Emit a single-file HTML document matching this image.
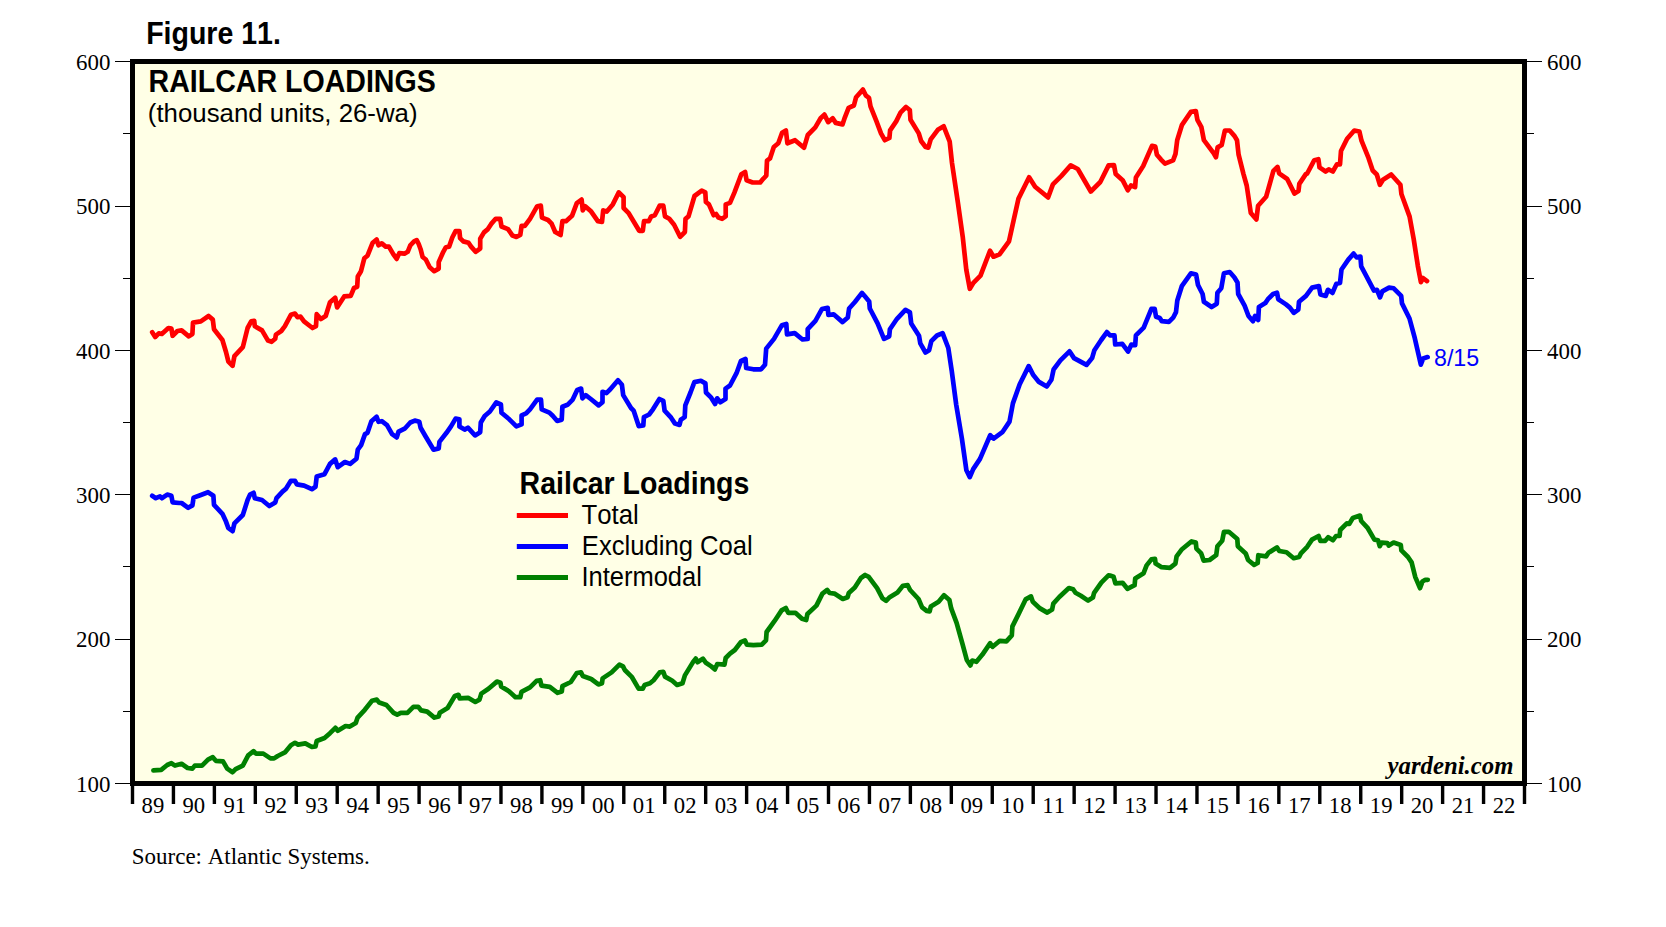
<!DOCTYPE html><html><head><meta charset="utf-8"><style>html,body{margin:0;padding:0;background:#fff;}body{width:1666px;height:927px;overflow:hidden;}svg{display:block;}text{font-kerning:none;}</style></head><body>
<svg width="1666" height="927" viewBox="0 0 1666 927">
<rect x="132.5" y="61.5" width="1392.0" height="722.0" fill="#FFFFE6"/>
<g fill="none" stroke-width="4.7" stroke-linejoin="round" stroke-linecap="round">
<path stroke="#FF0000" d="M152.2,332.2 L155.2,337.0 L158.8,333.4 L161.8,334.0 L168.4,328.0 L171.4,328.6 L172.6,335.8 L177.4,331.0 L181.6,330.4 L188.8,336.4 L192.4,334.0 L193.0,322.6 L200.8,321.4 L208.6,316.0 L212.8,319.6 L214.0,329.2 L222.4,340.0 L226.0,352.0 L228.4,361.6 L232.6,365.8 L234.4,356.2 L242.8,347.2 L247.6,328.0 L251.2,321.4 L254.2,320.8 L254.8,326.2 L262.0,330.4 L268.0,340.6 L271.6,341.8 L275.2,338.8 L275.9,334.6 L281.3,331.0 L284.9,326.2 L290.9,314.8 L295.0,313.6 L297.5,317.2 L300.5,316.6 L304.0,321.4 L312.5,328.0 L316.0,326.2 L316.7,314.2 L320.9,319.0 L325.7,316.0 L330.0,302.3 L335.2,297.7 L337.1,307.4 L344.2,296.4 L350.7,295.8 L354.0,288.0 L357.2,286.7 L357.8,276.4 L361.0,271.2 L364.3,258.3 L367.5,255.7 L372.7,242.7 L376.6,239.5 L378.5,245.3 L381.8,243.4 L385.7,246.6 L388.9,246.6 L393.4,254.4 L396.7,258.9 L399.3,253.1 L404.4,253.7 L407.7,251.8 L410.3,245.3 L414.1,241.4 L416.7,240.1 L418.7,244.0 L420.6,249.2 L422.6,257.0 L425.8,259.5 L429.7,267.3 L434.2,271.2 L438.7,268.6 L438.7,262.1 L443.3,251.8 L445.9,247.2 L449.1,246.6 L452.3,237.5 L455.6,231.1 L459.4,231.1 L460.1,238.2 L463.3,241.4 L468.5,242.7 L471.1,246.6 L475.6,251.8 L480.2,248.5 L480.2,238.8 L484.0,232.4 L487.9,229.1 L491.2,223.9 L495.7,218.8 L500.2,218.8 L501.5,226.5 L508.0,229.1 L512.5,235.6 L516.4,236.9 L520.3,235.0 L521.6,225.9 L524.8,225.9 L530.0,218.8 L537.2,206.2 L540.8,205.6 L542.0,217.6 L548.0,220.0 L551.6,223.6 L555.2,232.0 L560.6,235.0 L562.4,221.2 L566.0,221.2 L572.0,215.8 L576.8,203.2 L581.6,199.6 L582.8,210.4 L585.2,206.2 L591.2,211.6 L597.8,221.2 L602.0,221.8 L603.2,210.4 L606.8,211.6 L612.8,204.4 L618.8,192.4 L623.6,197.2 L623.6,208.0 L628.4,212.8 L632.0,218.8 L639.2,230.8 L642.8,230.8 L644.0,221.2 L648.8,221.2 L651.2,216.4 L654.8,215.2 L659.7,205.6 L663.3,205.6 L665.0,216.4 L669.3,218.8 L674.1,224.8 L680.1,236.8 L684.9,232.0 L685.5,218.8 L688.5,216.4 L694.5,196.0 L701.7,190.6 L705.3,192.4 L705.9,202.0 L708.9,204.4 L713.7,215.2 L716.1,214.0 L718.5,217.6 L722.1,218.8 L725.7,216.4 L725.7,204.4 L730.0,202.9 L734.5,192.4 L741.3,174.2 L745.1,172.0 L746.6,180.3 L752.7,182.5 L760.2,182.5 L763.2,178.8 L766.3,175.7 L767.0,160.6 L770.0,158.4 L773.8,147.0 L778.3,143.3 L782.1,132.7 L785.9,130.4 L787.4,143.3 L795.0,140.2 L804.0,147.8 L807.8,135.0 L815.3,127.4 L820.6,118.3 L824.4,114.6 L828.2,122.1 L832.7,118.3 L835.7,122.9 L842.5,124.4 L844.8,117.6 L848.6,107.8 L853.9,105.5 L856.1,97.2 L862.9,89.6 L866.0,95.7 L869.0,97.9 L870.5,106.3 L876.5,121.4 L881.0,133.4 L884.8,140.2 L889.4,138.0 L890.1,130.4 L896.2,121.4 L900.7,112.3 L906.0,107.0 L909.8,110.0 L910.5,119.8 L918.8,133.4 L921.1,141.0 L925.6,147.0 L928.3,147.6 L930.7,139.3 L937.8,129.8 L943.7,126.3 L949.7,141.7 L952.0,163.0 L958.0,203.4 L962.7,236.6 L966.3,269.8 L969.8,288.8 L973.4,282.8 L980.5,275.7 L990.0,250.8 L993.5,256.7 L999.5,254.4 L1009.0,241.3 L1013.7,220.0 L1018.5,198.6 L1029.1,177.3 L1035.1,186.8 L1048.1,197.4 L1052.9,184.4 L1061.2,176.1 L1070.7,165.4 L1077.8,169.0 L1090.8,191.5 L1100.3,182.0 L1108.6,165.4 L1114.0,165.2 L1115.7,174.1 L1122.9,180.6 L1127.8,190.3 L1131.0,185.5 L1135.1,187.1 L1135.9,177.4 L1143.2,166.0 L1152.1,145.8 L1155.3,146.6 L1156.9,154.7 L1161.0,159.6 L1165.0,163.6 L1173.1,160.4 L1175.5,153.9 L1177.2,140.2 L1182.0,124.8 L1190.9,111.8 L1195.8,111.0 L1197.4,119.9 L1201.4,127.2 L1203.9,140.2 L1213.6,153.1 L1216.0,157.2 L1217.6,147.4 L1221.7,145.0 L1224.9,130.5 L1229.7,130.5 L1234.6,136.1 L1237.0,140.2 L1238.6,154.7 L1243.5,174.1 L1246.7,185.5 L1250.8,213.0 L1256.4,219.4 L1258.1,205.7 L1266.1,196.8 L1273.4,170.9 L1277.5,166.9 L1279.1,173.3 L1287.2,179.0 L1294.5,193.6 L1298.5,191.1 L1299.3,183.9 L1305.8,174.1 L1307.2,173.5 L1314.3,160.2 L1318.4,159.2 L1319.5,167.4 L1325.6,171.5 L1328.7,169.4 L1332.8,171.5 L1336.9,164.3 L1340.0,164.3 L1341.0,151.0 L1347.1,138.7 L1354.3,130.5 L1359.4,131.5 L1361.5,140.7 L1368.6,158.2 L1372.7,170.5 L1376.8,174.5 L1379.9,184.8 L1383.0,179.7 L1391.2,174.5 L1400.4,184.8 L1401.4,194.0 L1409.6,216.6 L1413.7,239.1 L1417.8,265.7 L1420.9,282.1 L1423.0,278.0 L1427.0,281.1"/>
<path stroke="#0000FF" d="M152.2,495.8 L155.8,498.2 L160.0,496.4 L161.8,498.2 L167.2,494.6 L171.4,495.8 L172.6,502.4 L179.2,503.0 L181.6,503.0 L188.2,507.8 L192.4,505.4 L193.6,497.6 L200.2,495.2 L208.0,492.2 L213.4,495.8 L214.0,504.8 L222.4,513.8 L226.0,521.6 L228.4,528.2 L232.6,531.2 L234.4,523.4 L242.8,515.0 L247.6,500.0 L250.0,494.6 L253.6,492.8 L254.8,498.2 L262.0,500.0 L269.3,506.0 L275.3,502.4 L276.5,498.2 L282.5,491.6 L286.1,488.6 L290.9,480.8 L295.0,480.8 L296.9,484.4 L304.1,485.6 L311.9,489.2 L315.5,486.8 L316.7,476.6 L324.5,474.2 L330.0,463.9 L335.2,459.4 L337.8,467.2 L344.9,462.0 L350.1,463.9 L356.5,458.7 L357.8,449.7 L361.1,445.1 L365.0,434.1 L367.5,432.8 L371.4,421.2 L376.6,416.7 L378.5,421.8 L381.8,421.2 L387.0,425.1 L392.1,434.1 L396.7,437.4 L398.6,431.6 L405.1,428.3 L410.3,422.5 L414.8,420.6 L419.3,421.8 L420.6,427.7 L425.8,436.7 L433.6,449.7 L438.7,448.4 L439.4,441.9 L446.5,432.8 L451.0,426.4 L455.6,418.6 L459.4,419.3 L459.4,426.4 L464.6,429.6 L467.9,427.7 L475.0,435.4 L480.2,432.2 L480.8,422.5 L484.7,416.0 L489.9,411.5 L496.3,402.4 L500.9,404.4 L501.5,412.8 L509.3,419.3 L516.4,426.4 L521.6,424.4 L521.6,415.4 L526.1,413.4 L530.0,409.3 L537.1,399.6 L541.0,399.6 L541.7,409.3 L549.4,412.6 L552.7,415.8 L557.2,421.0 L561.7,419.7 L562.4,406.7 L567.5,404.8 L572.7,399.6 L577.2,389.9 L581.1,388.6 L582.4,398.3 L585.7,395.1 L590.8,399.0 L598.6,405.4 L602.5,402.2 L602.5,391.8 L606.4,393.1 L610.3,389.3 L618.0,380.2 L621.9,384.7 L623.2,395.1 L631.0,408.0 L633.6,410.6 L638.7,426.1 L643.3,425.5 L643.9,417.1 L649.1,414.5 L653.0,409.3 L659.4,399.0 L663.3,400.9 L664.6,410.6 L671.1,417.7 L675.0,423.6 L679.5,424.9 L680.8,419.7 L684.7,417.1 L685.3,405.4 L690.5,392.5 L694.4,382.1 L700.9,380.8 L705.4,383.4 L706.0,392.5 L711.2,397.7 L715.1,404.1 L717.1,398.3 L720.3,402.2 L725.5,399.0 L725.5,388.6 L730.0,385.5 L736.5,373.2 L741.0,360.9 L745.5,359.0 L746.2,368.0 L753.3,369.3 L761.1,369.3 L765.0,364.8 L766.2,348.6 L774.0,338.9 L781.8,325.3 L786.3,324.0 L787.0,334.4 L794.7,333.1 L802.5,339.5 L807.7,338.9 L807.7,329.2 L815.4,320.8 L821.9,309.1 L827.7,307.8 L828.4,315.0 L833.6,314.3 L842.6,322.1 L847.8,317.5 L849.1,308.5 L854.9,302.0 L862.0,292.9 L865.3,296.8 L869.2,301.4 L869.8,308.5 L877.6,323.4 L884.0,338.9 L889.2,336.3 L889.9,329.2 L897.0,318.8 L905.4,309.8 L909.9,312.4 L911.2,323.4 L919.0,335.7 L920.3,343.4 L925.5,352.5 L929.1,350.2 L931.3,341.2 L937.0,335.5 L942.6,333.2 L948.3,348.0 L951.7,370.6 L956.2,404.6 L961.9,438.6 L966.4,470.3 L969.8,477.1 L973.2,469.1 L980.0,458.9 L990.2,435.2 L993.6,438.6 L1002.7,431.8 L1009.5,421.6 L1012.9,403.4 L1019.7,384.2 L1028.7,366.1 L1033.3,375.1 L1038.9,381.9 L1046.8,386.5 L1051.4,379.7 L1053.6,369.5 L1060.4,360.4 L1069.5,351.3 L1074.0,358.1 L1086.5,364.9 L1092.1,358.1 L1094.4,350.2 L1101.2,340.0 L1106.9,332.1 L1110.0,335.4 L1114.5,335.4 L1115.2,344.5 L1122.3,343.9 L1128.1,351.6 L1131.4,344.5 L1135.2,345.1 L1135.9,335.4 L1143.7,327.7 L1151.4,308.9 L1154.7,308.9 L1156.0,316.7 L1159.8,318.0 L1161.8,321.2 L1168.9,321.8 L1173.4,317.3 L1176.0,312.1 L1177.3,300.5 L1181.8,286.2 L1190.9,273.3 L1196.1,274.6 L1198.0,285.0 L1202.6,294.0 L1203.9,301.8 L1211.6,307.0 L1216.8,303.7 L1217.4,292.7 L1221.3,288.2 L1223.9,273.3 L1229.7,272.0 L1234.3,277.2 L1237.5,282.4 L1238.2,294.0 L1244.6,305.7 L1248.5,316.0 L1253.0,321.2 L1255.0,316.0 L1258.2,319.9 L1258.9,307.0 L1265.3,303.1 L1267.9,299.2 L1273.1,294.0 L1277.0,292.7 L1278.3,299.2 L1286.0,304.4 L1289.9,307.6 L1293.8,312.8 L1298.3,309.5 L1299.0,301.8 L1306.0,295.9 L1312.1,287.6 L1318.9,286.1 L1320.4,294.4 L1325.7,295.9 L1327.9,289.8 L1332.5,292.9 L1336.3,283.8 L1340.0,283.0 L1341.5,269.5 L1348.3,259.6 L1353.6,253.6 L1356.6,257.4 L1360.4,256.6 L1361.2,266.4 L1366.5,276.3 L1374.0,290.6 L1377.0,289.8 L1380.0,297.4 L1382.3,291.4 L1389.1,287.6 L1393.7,288.3 L1401.2,295.9 L1402.0,303.4 L1409.5,318.5 L1414.8,338.2 L1420.8,364.6 L1423.1,358.6 L1427.6,357.1"/>
<path stroke="#008000" d="M153.4,770.4 L161.2,769.8 L167.2,765.0 L171.4,763.2 L175.0,765.6 L181.6,763.8 L187.6,768.0 L192.4,768.6 L194.8,765.6 L202.0,765.6 L208.0,759.6 L212.8,757.2 L215.8,760.8 L223.0,761.4 L227.2,768.6 L232.6,772.2 L235.6,769.2 L242.8,765.6 L248.2,755.4 L253.6,751.2 L256.0,753.6 L263.3,753.6 L270.5,758.4 L274.1,758.4 L277.7,756.0 L284.9,752.4 L290.9,745.2 L295.0,742.8 L298.1,744.6 L305.3,743.4 L311.9,747.0 L315.5,746.4 L316.7,741.0 L324.5,738.0 L330.0,733.2 L335.4,727.8 L337.8,730.8 L345.6,726.0 L349.8,726.6 L355.8,723.0 L357.6,717.6 L364.8,709.8 L372.0,700.8 L376.8,699.6 L379.2,702.6 L386.4,705.0 L393.6,712.8 L397.2,714.6 L400.8,712.8 L407.4,712.8 L413.4,706.8 L418.2,706.8 L421.2,710.4 L427.2,711.6 L434.4,717.6 L438.6,716.4 L439.8,712.8 L447.6,708.0 L454.8,696.0 L458.5,694.8 L459.7,698.4 L468.1,697.8 L475.3,702.0 L479.5,699.6 L481.3,693.6 L488.5,688.8 L496.9,681.6 L500.5,682.8 L501.1,686.4 L508.9,691.2 L515.5,697.2 L520.3,697.2 L521.5,691.8 L530.0,687.4 L536.6,680.8 L540.2,680.2 L541.4,685.6 L549.8,686.8 L557.6,692.8 L561.8,691.6 L562.4,686.2 L570.8,682.0 L576.8,673.0 L581.0,672.4 L582.8,676.0 L591.2,679.0 L598.4,684.4 L602.0,683.2 L602.6,678.4 L611.6,672.4 L619.4,664.6 L623.0,666.4 L624.8,670.0 L632.0,677.2 L638.6,688.6 L642.8,688.6 L644.6,685.0 L650.0,683.2 L653.6,680.2 L659.7,672.4 L663.3,671.8 L665.0,676.6 L672.3,680.8 L677.1,685.0 L682.5,683.2 L684.9,675.4 L693.3,661.6 L695.7,658.6 L697.5,662.2 L702.9,658.6 L705.9,662.8 L711.3,666.4 L714.9,669.4 L717.3,664.0 L724.5,664.6 L725.7,658.0 L730.0,653.6 L734.8,650.0 L740.8,642.2 L745.0,640.4 L746.8,644.6 L753.4,645.2 L761.8,644.6 L766.0,640.4 L766.6,632.0 L774.4,621.2 L781.6,610.4 L785.8,608.0 L788.2,612.8 L795.4,612.8 L802.0,618.8 L806.2,620.0 L807.4,614.0 L816.4,605.6 L822.4,593.6 L827.2,590.0 L829.6,593.0 L834.4,593.6 L842.8,599.0 L847.6,597.2 L848.8,593.0 L854.8,587.6 L860.9,578.0 L865.1,575.0 L868.7,576.8 L877.1,588.2 L882.5,598.4 L886.1,600.8 L889.7,597.2 L897.5,592.4 L902.9,585.8 L907.7,585.2 L910.1,590.0 L918.5,599.0 L922.1,607.4 L926.9,611.0 L929.6,611.4 L930.8,606.6 L938.6,601.8 L944.0,595.2 L949.4,600.0 L951.2,608.4 L956.6,622.8 L962.6,644.4 L966.8,660.0 L970.4,665.4 L972.2,660.6 L976.4,661.8 L982.4,654.6 L990.2,643.2 L992.6,646.8 L999.8,640.8 L1006.4,641.4 L1011.8,635.4 L1012.4,626.4 L1018.4,614.4 L1025.6,599.4 L1031.0,596.4 L1032.8,601.8 L1040.0,608.4 L1047.3,612.6 L1052.1,609.6 L1053.3,603.6 L1059.3,597.0 L1068.9,588.0 L1073.1,589.2 L1075.5,592.8 L1080.9,595.8 L1088.1,600.6 L1092.9,597.6 L1094.1,592.8 L1101.3,582.6 L1108.5,575.4 L1110.0,575.6 L1113.6,576.8 L1115.4,583.4 L1122.6,582.8 L1127.4,588.8 L1134.6,585.2 L1135.2,578.6 L1143.6,573.2 L1146.6,565.4 L1151.4,559.4 L1155.0,558.8 L1155.6,563.6 L1161.6,567.2 L1170.0,567.8 L1175.4,563.6 L1176.6,556.4 L1182.0,549.2 L1191.6,541.4 L1195.8,542.6 L1196.4,548.6 L1201.2,553.4 L1203.6,560.6 L1209.6,560.0 L1216.2,555.2 L1217.4,546.2 L1222.2,540.8 L1224.0,531.8 L1228.8,531.8 L1237.3,539.0 L1237.8,546.2 L1245.7,553.4 L1248.1,560.0 L1254.1,564.8 L1257.7,563.0 L1258.3,555.2 L1266.1,556.4 L1268.5,552.8 L1276.9,547.4 L1279.3,551.0 L1286.5,552.2 L1293.7,558.2 L1299.1,557.0 L1300.9,553.4 L1307.2,546.8 L1312.0,539.6 L1318.6,536.0 L1320.4,540.8 L1325.2,540.8 L1328.2,537.2 L1333.0,540.2 L1336.0,536.0 L1339.6,536.0 L1340.2,530.0 L1346.8,523.4 L1349.2,524.0 L1352.8,518.0 L1356.4,516.8 L1360.0,515.6 L1361.2,521.0 L1367.8,528.2 L1374.4,539.6 L1378.0,540.2 L1379.8,546.2 L1381.6,542.6 L1387.6,543.2 L1388.8,545.6 L1393.6,542.6 L1400.8,545.0 L1401.4,550.4 L1408.0,557.0 L1411.6,562.4 L1415.2,576.8 L1420.0,588.2 L1422.4,581.6 L1425.4,579.8 L1427.8,579.8"/>
</g>
<rect x="132.5" y="61.5" width="1392.0" height="722.0" fill="none" stroke="#000" stroke-width="5.0"/>
<path stroke="#000" stroke-width="1" d="M115,61.50H132.5 M1524.5,61.50H1542 M115,206.50H132.5 M1524.5,206.50H1542 M115,350.50H132.5 M1524.5,350.50H1542 M115,494.50H132.5 M1524.5,494.50H1542 M115,639.50H132.5 M1524.5,639.50H1542 M115,783.50H132.5 M1524.5,783.50H1542 M123,133.50H132.5 M1524.5,133.50H1534 M123,278.50H132.5 M1524.5,278.50H1534 M123,422.50H132.5 M1524.5,422.50H1534 M123,566.50H132.5 M1524.5,566.50H1534 M123,711.50H132.5 M1524.5,711.50H1534"/>
<path stroke="#000" stroke-width="3.4" d="M132.50,783.5V804 M173.44,783.5V804 M214.38,783.5V804 M255.32,783.5V804 M296.26,783.5V804 M337.21,783.5V804 M378.15,783.5V804 M419.09,783.5V804 M460.03,783.5V804 M500.97,783.5V804 M541.91,783.5V804 M582.85,783.5V804 M623.79,783.5V804 M664.74,783.5V804 M705.68,783.5V804 M746.62,783.5V804 M787.56,783.5V804 M828.50,783.5V804 M869.44,783.5V804 M910.38,783.5V804 M951.32,783.5V804 M992.26,783.5V804 M1033.21,783.5V804 M1074.15,783.5V804 M1115.09,783.5V804 M1156.03,783.5V804 M1196.97,783.5V804 M1237.91,783.5V804 M1278.85,783.5V804 M1319.79,783.5V804 M1360.74,783.5V804 M1401.68,783.5V804 M1442.62,783.5V804 M1483.56,783.5V804 M1524.50,783.5V804"/>
<g stroke-width="5">
<path stroke="#FF0000" d="M516.8,515.4H568"/>
<path stroke="#0000FF" d="M516.8,546.5H568"/>
<path stroke="#008000" d="M516.8,577.5H568"/>
</g>
<g font-family='"Liberation Serif", serif' font-size="22.9" fill="#000">
<text x="110.40" y="69.70" text-anchor="end">600</text>
<text x="1547.00" y="69.70">600</text>
<text x="110.40" y="214.10" text-anchor="end">500</text>
<text x="1547.00" y="214.10">500</text>
<text x="110.40" y="358.50" text-anchor="end">400</text>
<text x="1547.00" y="358.50">400</text>
<text x="110.40" y="502.90" text-anchor="end">300</text>
<text x="1547.00" y="502.90">300</text>
<text x="110.40" y="647.30" text-anchor="end">200</text>
<text x="1547.00" y="647.30">200</text>
<text x="110.40" y="791.70" text-anchor="end">100</text>
<text x="1547.00" y="791.70">100</text>
</g>
<g font-family='"Liberation Serif", serif' font-size="22.7" fill="#000" text-anchor="middle">
<text x="152.92" y="812.80">89</text>
<text x="193.86" y="812.80">90</text>
<text x="234.80" y="812.80">91</text>
<text x="275.74" y="812.80">92</text>
<text x="316.69" y="812.80">93</text>
<text x="357.63" y="812.80">94</text>
<text x="398.57" y="812.80">95</text>
<text x="439.51" y="812.80">96</text>
<text x="480.45" y="812.80">97</text>
<text x="521.39" y="812.80">98</text>
<text x="562.33" y="812.80">99</text>
<text x="603.27" y="812.80">00</text>
<text x="644.21" y="812.80">01</text>
<text x="685.16" y="812.80">02</text>
<text x="726.10" y="812.80">03</text>
<text x="767.04" y="812.80">04</text>
<text x="807.98" y="812.80">05</text>
<text x="848.92" y="812.80">06</text>
<text x="889.86" y="812.80">07</text>
<text x="930.80" y="812.80">08</text>
<text x="971.74" y="812.80">09</text>
<text x="1012.69" y="812.80">10</text>
<text x="1053.63" y="812.80">11</text>
<text x="1094.57" y="812.80">12</text>
<text x="1135.51" y="812.80">13</text>
<text x="1176.45" y="812.80">14</text>
<text x="1217.39" y="812.80">15</text>
<text x="1258.33" y="812.80">16</text>
<text x="1299.27" y="812.80">17</text>
<text x="1340.21" y="812.80">18</text>
<text x="1381.16" y="812.80">19</text>
<text x="1422.10" y="812.80">20</text>
<text x="1463.04" y="812.80">21</text>
<text x="1503.98" y="812.80">22</text>
</g>
<text x="146.15" y="44.00" font-family='"Liberation Sans", sans-serif' font-size="28.52" fill="#000" transform="matrix(1,0,0,1.069,0,-3.036)" font-weight="bold">Figure 11.</text>
<text x="148.60" y="91.90" font-family='"Liberation Sans", sans-serif' font-size="28.57" fill="#000" transform="matrix(1,0,0,1.065,0,-5.973)" font-weight="bold">RAILCAR LOADINGS</text>
<text x="147.80" y="121.60" font-family='"Liberation Sans", sans-serif' font-size="25.82" fill="#000" >(thousand units, 26-wa)</text>
<text x="519.60" y="494.00" font-family='"Liberation Sans", sans-serif' font-size="28.53" fill="#000" transform="matrix(1,0,0,1.069,0,-34.086)" font-weight="bold">Railcar Loadings</text>
<text x="581.50" y="523.80" font-family='"Liberation Sans", sans-serif' font-size="25.78" fill="#000" transform="matrix(1,0,0,1.06,0,-31.428)" >Total</text>
<text x="581.80" y="555.00" font-family='"Liberation Sans", sans-serif' font-size="25.63" fill="#000" transform="matrix(1,0,0,1.06,0,-33.300)" >Excluding Coal</text>
<text x="581.40" y="585.90" font-family='"Liberation Sans", sans-serif' font-size="25.52" fill="#000" transform="matrix(1,0,0,1.06,0,-35.154)" >Intermodal</text>
<text x="1434.00" y="365.90" font-family='"Liberation Sans", sans-serif' font-size="23.22" fill="#0000FF" >8/15</text>
<text x="1513.40" y="774.10" font-family='"Liberation Serif", serif' font-size="24.75" fill="#000" font-weight="bold" font-style="italic" text-anchor="end">yardeni.com</text>
<text x="131.80" y="863.80" font-family='"Liberation Serif", serif' font-size="22.98" fill="#000" >Source: Atlantic Systems.</text>
</svg></body></html>
